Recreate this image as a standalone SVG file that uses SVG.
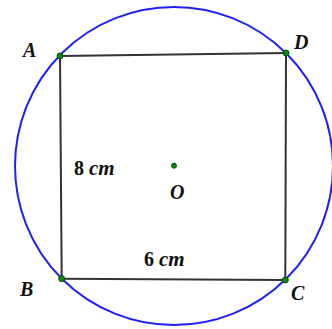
<svg xmlns="http://www.w3.org/2000/svg" width="332" height="329" viewBox="0 0 332 329">
<style>
.lbl{font-family:"Liberation Serif","DejaVu Serif",serif;font-style:italic;font-weight:bold;fill:#111;font-size:20px}
.meas{font-family:"Liberation Serif","DejaVu Serif",serif;font-weight:bold;fill:#111;font-size:20px}
.pt{fill:#0a8a0a;stroke:#064d06;stroke-width:1}
</style>
<rect width="332" height="329" fill="#fff"/>
<g id="circle"><circle cx="174" cy="166" r="159" fill="none" stroke="#1f1fff" stroke-width="2"/></g>
<g id="connectors" fill="none" stroke="#333" stroke-width="2">
<line x1="60" y1="56" x2="286" y2="53"/>
<line x1="286" y1="53" x2="285.3" y2="280"/>
<line x1="285.3" y1="280" x2="61.7" y2="278.7"/>
<line x1="61.7" y1="278.7" x2="60" y2="56"/>
</g>
<g id="A"><circle class="pt" cx="60" cy="56" r="3"/><text class="lbl" x="23" y="57">A</text></g>
<g id="D"><circle class="pt" cx="286" cy="53" r="3"/><text class="lbl" x="294" y="49">D</text></g>
<g id="B"><circle class="pt" cx="61.7" cy="278.7" r="3"/><text class="lbl" x="20" y="296">B</text></g>
<g id="C"><circle class="pt" cx="285.3" cy="280" r="3"/><text class="lbl" x="291" y="300">C</text></g>
<g id="O"><circle class="pt" cx="174" cy="165.7" r="2.5"/><text class="lbl" x="170" y="199">O</text></g>
<g id="label-8cm"><text class="meas" x="74" y="175">8 <tspan font-style="italic" font-size="21">cm</tspan></text></g>
<g id="label-6cm"><text class="meas" x="144" y="266">6 <tspan font-style="italic" font-size="21">cm</tspan></text></g>
</svg>
